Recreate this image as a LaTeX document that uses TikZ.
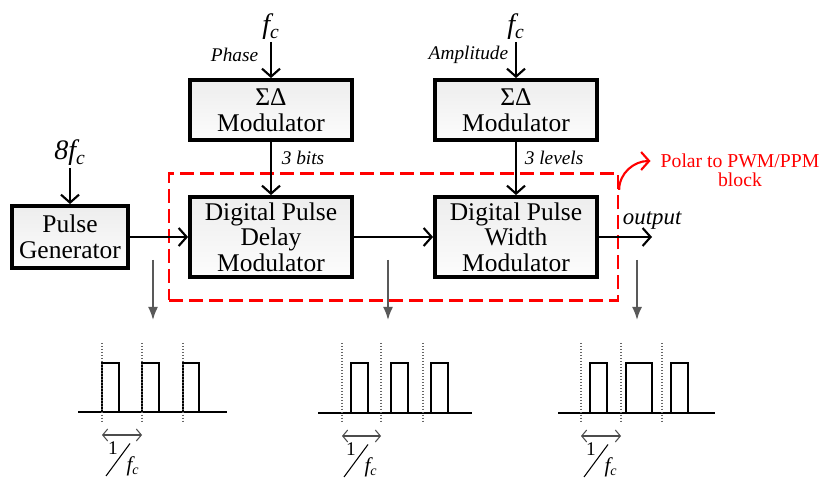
\documentclass[tikz,border=0pt]{standalone}
\usepackage{fontspec}
\setmainfont{Liberation Serif}
\usetikzlibrary{arrows.meta, positioning, fit}

\tikzstyle{block} = [rectangle, draw=black, line width=2.2pt, top color=gray!14, bottom color=gray!2, align=center, minimum width=3.24cm, inner sep=1pt, font=\fontsize{14.5}{14.5}\selectfont]
\tikzstyle{freq} = [inner sep=1pt, font=\fontsize{16}{16}\selectfont\itshape]
\tikzstyle{sigtext} = [inner sep=1pt, font=\fontsize{11}{11}\selectfont\itshape]
\tikzstyle{arrow} = [line width=1.2pt, -{Straight Barb[length=1.6mm, width=3.6mm]}]
\tikzstyle{redarrow} = [red, line width=1.2pt, -{Straight Barb[length=1.6mm, width=3.6mm]}]
\tikzstyle{probe} = [black!65, line width=1pt, -{Latex[length=2.6mm, width=2mm]}]
\tikzstyle{pulse} = [line width=1.4pt]
\tikzstyle{base} = [line width=0.8pt]
\tikzstyle{marker} = [black!60, line width=0.7pt, densely dotted]
\tikzstyle{period} = [black!70, line width=0.6pt, {Straight Barb[length=1mm, width=2.4mm]}-{Straight Barb[length=1mm, width=2.4mm]}]
\tikzstyle{fracnum} = [inner sep=0pt, font=\fontsize{11}{11}\selectfont]

\begin{document}
\begin{tikzpicture}[node distance=2.5cm]
\useasboundingbox (0,0) rectangle (16.48,-9.62);

\node (pg) [block, minimum width=2.32cm, minimum height=1.24cm] at (1.40,-4.74) {Pulse\\Generator};
\node (dpdm) [block, minimum height=1.6cm, right of=pg, xshift=1.52cm] {Digital Pulse\\Delay\\Modulator};
\node (dpwm) [block, minimum height=1.6cm, right of=dpdm, xshift=2.4cm] {Digital Pulse\\Width\\Modulator};
\node (sd1) [block, minimum height=1.2cm, above of=dpdm, yshift=0.04cm] {ΣΔ\\Modulator};
\node (sd2) [block, minimum height=1.2cm, right of=sd1, xshift=2.4cm] {ΣΔ\\Modulator};

\node (fc8) [freq, above of=pg, yshift=-0.82cm] {8f\textsubscript{c}};
\node (fc1) [freq, above of=sd1, yshift=-0.84cm] {f\textsubscript{c}};
\node (fc2) [freq, right of=fc1, xshift=2.4cm] {f\textsubscript{c}};
\coordinate [right of=dpwm, xshift=0.22cm] (out);

\node (polar) [draw=red, line width=1.4pt, dash pattern=on 0.28cm off 0.12cm, fit=(dpdm)(dpwm), inner xsep=0.38cm, inner ysep=0.43cm] {};
\node (ptext) [red, align=center, font=\fontsize{11.2}{11}\selectfont] at (14.80,-3.40) {Polar to PWM/PPM\\block};

% Arrows
\draw [arrow] (fc8) -- (pg);
\draw [arrow] (fc1) -- node[sigtext, anchor=east, xshift=-0.2cm, pos=0.35] {Phase} (sd1);
\draw [arrow] (fc2) -- node[sigtext, anchor=east, xshift=-0.1cm, pos=0.35] {Amplitude} (sd2);
\draw [arrow] (sd1) -- node[sigtext, anchor=west, xshift=0.16cm, pos=0.3] {3 bits} (dpdm);
\draw [arrow] (sd2) -- node[sigtext, anchor=west, xshift=0.12cm, pos=0.3] {3 levels} (dpwm);
\draw [arrow] (pg) -- (dpdm);
\draw [arrow] (dpdm) -- (dpwm);
\draw [arrow] (dpwm) -- node[anchor=south west, pos=0.4, yshift=0.1cm, inner sep=1pt, font=\fontsize{13}{13}\selectfont\itshape] {output} (out);
\draw [redarrow] ([yshift=-0.35cm]polar.north east) to[out=90, in=180] ([xshift=-0.08cm, yshift=0.18cm]ptext.west);

% Probes
\draw [probe] (3.06,-5.20) -- (3.06,-6.40);
\draw [probe] (7.76,-5.20) -- (7.76,-6.40);
\draw [probe] (12.74,-5.20) -- (12.74,-6.40);

% Waveform after pulse generator
\begin{scope}[shift={(2.04,0)}]
\draw [base] (-0.48,-8.24) -- (2.5,-8.24);
\draw [pulse] (0,-8.24) |- (0.34,-7.26) -- (0.34,-8.24);
\draw [pulse] (0.80,-8.24) |- (1.14,-7.26) -- (1.14,-8.24);
\draw [pulse] (1.62,-8.24) |- (1.94,-7.26) -- (1.94,-8.24);
\draw [marker] (0,-6.86) -- (0,-8.46);
\draw [marker] (0.80,-6.86) -- (0.80,-8.46);
\draw [marker] (1.62,-6.86) -- (1.62,-8.46);
\draw [period] (0,-8.70) -- (0.80,-8.70);
\draw [line width=0.6pt] (0.08,-9.52) -- (0.56,-8.87);
\node [fracnum] at (0.22,-8.96) {1};
\node [fracnum, font=\fontsize{12}{12}\selectfont\itshape] at (0.62,-9.32) {f\textsubscript{c}};
\end{scope}

% Waveform after delay modulator
\begin{scope}[shift={(6.84,0)}]
\draw [base] (-0.48,-8.26) -- (2.6,-8.26);
\draw [pulse] (0.18,-8.26) |- (0.52,-7.26) -- (0.52,-8.26);
\draw [pulse] (0.98,-8.26) |- (1.32,-7.26) -- (1.32,-8.26);
\draw [pulse] (1.78,-8.26) |- (2.12,-7.26) -- (2.12,-8.26);
\draw [marker] (0,-6.86) -- (0,-8.46);
\draw [marker] (0.78,-6.86) -- (0.78,-8.46);
\draw [marker] (1.62,-6.86) -- (1.62,-8.46);
\draw [period] (0,-8.72) -- (0.78,-8.72);
\draw [line width=0.6pt] (0.04,-9.54) -- (0.52,-8.89);
\node [fracnum] at (0.18,-8.98) {1};
\node [fracnum, font=\fontsize{12}{12}\selectfont\itshape] at (0.58,-9.34) {f\textsubscript{c}};
\end{scope}

% Waveform after width modulator
\begin{scope}[shift={(11.62,0)}]
\draw [base] (-0.46,-8.26) -- (2.68,-8.26);
\draw [pulse] (0.18,-8.26) |- (0.52,-7.26) -- (0.52,-8.26);
\draw [pulse] (0.90,-8.26) |- (1.42,-7.26) -- (1.42,-8.26);
\draw [pulse] (1.80,-8.26) |- (2.14,-7.26) -- (2.14,-8.26);
\draw [marker] (0,-6.86) -- (0,-8.46);
\draw [marker] (0.80,-6.86) -- (0.80,-8.46);
\draw [marker] (1.62,-6.86) -- (1.62,-8.46);
\draw [period] (0,-8.72) -- (0.80,-8.72);
\draw [line width=0.6pt] (0.06,-9.54) -- (0.54,-8.89);
\node [fracnum] at (0.20,-8.98) {1};
\node [fracnum, font=\fontsize{12}{12}\selectfont\itshape] at (0.60,-9.34) {f\textsubscript{c}};
\end{scope}

\end{tikzpicture}
\end{document}
